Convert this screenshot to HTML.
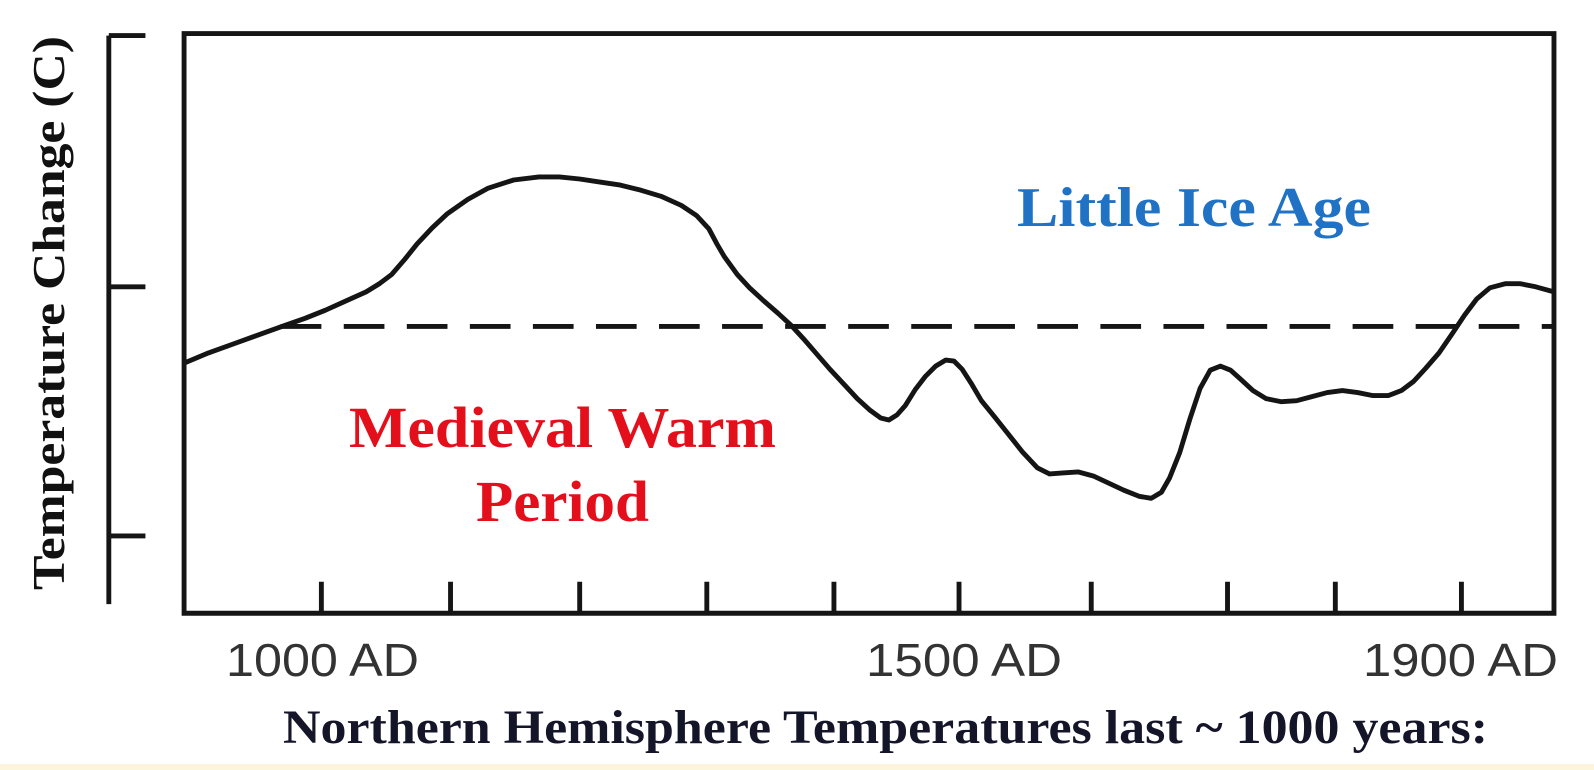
<!DOCTYPE html>
<html><head><meta charset="utf-8"><style>html,body{margin:0;padding:0;background:#fff}svg{display:block}</style></head>
<body>
<svg width="1594" height="770" viewBox="0 0 1594 770" xmlns="http://www.w3.org/2000/svg">
<rect width="1594" height="770" fill="#fff"/>
<rect x="0" y="764" width="1594" height="6" fill="#fdf4dc"/>
<g transform="scale(1.017)" fill="none" stroke="#151515" stroke-width="4.8" stroke-linecap="butt">
  <path d="M107 35 V594 M107 35 H143 M107 282 H143 M107 527 H143"/>
  <path d="M181 33 H1528 V603 H181 Z" stroke-linejoin="miter"/>
  <path d="M316 603 V572 M443 603 V572 M570 603 V572 M695 603 V572 M820 603 V572 M943 603 V572 M1073 603 V572 M1207 603 V572 M1313 603 V572 M1437 603 V572"/>
  <path d="M276 321 H1528" stroke-dasharray="40 22"/>
  <polyline stroke-linejoin="round" points="181,357 205,347 230,338 255,329 280,320 300,313 320,305 340,296 360,287 373,279 385,270 398,255 410,240 425,224 440,210 460,196 480,185 505,177 530,174 550,174 570,176 590,179 610,182 630,187 650,193 670,202 685,212 697,225 705,240 712,252 725,270 737,283 750,295 765,308 778,320 790,333 803,348 816,363 830,378 843,392 855,403 866,411 874,413 882,408 890,399 900,383 910,370 920,360 930,354 938,355 946,363 955,377 965,394 978,410 990,425 1005,444 1020,460 1032,466 1045,465 1060,464 1075,468 1090,475 1105,482 1120,488 1132,490 1142,484 1150,470 1160,445 1170,412 1180,382 1190,364 1200,360 1210,364 1220,373 1232,384 1245,392 1260,395 1275,394 1290,390 1305,386 1320,384 1335,386 1350,389 1365,389 1378,384 1390,375 1402,362 1415,347 1428,328 1440,310 1452,294 1465,283 1480,279 1495,279 1510,282 1528,287"/>
</g>
<g font-family="Liberation Serif, serif" font-weight="bold">
  <text x="1017" y="226" font-size="56" fill="#1f72c4" textLength="354" lengthAdjust="spacingAndGlyphs">Little Ice Age</text>
  <text x="349" y="447" font-size="58" fill="#e3101c" textLength="427" lengthAdjust="spacingAndGlyphs">Medieval Warm</text>
  <text x="476" y="521" font-size="58" fill="#e3101c" textLength="173" lengthAdjust="spacingAndGlyphs">Period</text>
  <text transform="translate(64,590) rotate(-90)" font-size="46" fill="#111" textLength="554" lengthAdjust="spacingAndGlyphs">Temperature Change (C)</text>
  <text x="283" y="743" font-size="48" fill="#15152a" textLength="1205" lengthAdjust="spacingAndGlyphs">Northern Hemisphere Temperatures last ~ 1000 years:</text>
</g>
<g font-family="Liberation Sans, sans-serif" font-size="46" fill="#333">
  <text x="226" y="676" textLength="193" lengthAdjust="spacingAndGlyphs">1000 AD</text>
  <text x="866" y="676" textLength="196" lengthAdjust="spacingAndGlyphs">1500 AD</text>
  <text x="1363" y="676" textLength="195" lengthAdjust="spacingAndGlyphs">1900 AD</text>
</g>
</svg>
</body></html>
